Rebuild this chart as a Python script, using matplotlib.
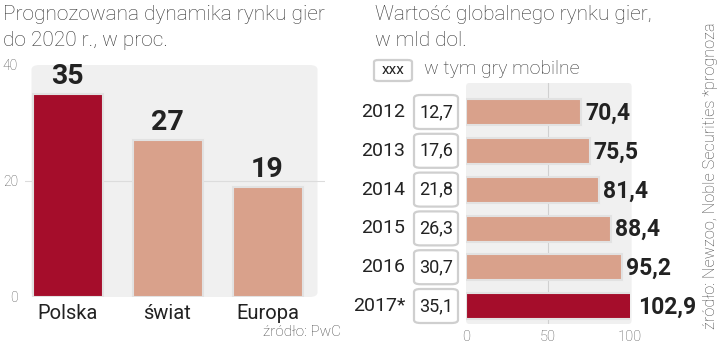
import matplotlib
matplotlib.use('Agg')
import matplotlib.pyplot as plt
from matplotlib.patches import FancyBboxPatch

# data
regions = ['Polska', 'świat', 'Europa']
growth = [35, 27, 19]

years = ['2012', '2013', '2014', '2015', '2016', '2017*']
market = [70.4, 75.5, 81.4, 88.4, 95.2, 102.9]
mobile = [12.7, 17.6, 21.8, 26.3, 30.7, 35.1]

DARK = '#A50D2B'
LIGHT = '#D9A18B'
PANEL = '#F0F0F0'
TXT = '#222222'

FONT = 'Roboto'


def fmt(v):
    return f'{v:.1f}'.replace('.', ',')


W, H = 720, 346
fig = plt.figure(figsize=(W / 100, H / 100), dpi=100)


def px_axes(x0, y0, x1, y1):
    # pixel box (top-left origin) -> axes
    return fig.add_axes([x0 / W, 1 - y1 / H, (x1 - x0) / W, (y1 - y0) / H])


def ftext(x, y, s, **kw):
    fig.text(x / W, 1 - y / H, s, **kw)


# ---- left chart ----
ax1 = px_axes(25, 65, 325, 297)
ax1.set_xlim(-0.425, 2.575)
ax1.set_ylim(0, 40)
ax1.add_patch(FancyBboxPatch((-0.36, 0), 2.86, 40, boxstyle='round,pad=0,rounding_size=0.08',
                             mutation_aspect=10, fc=PANEL, ec='none', zorder=0, clip_on=False))
ax1.axhline(20, color='#dcdcdc', lw=0.8, zorder=1)
cols = [DARK, LIGHT, LIGHT]
ax1.bar(range(3), growth, width=0.7, color=cols, edgecolor='#e2e2e2', lw=1.5, zorder=2)
for i, v in enumerate(growth):
    ax1.text(i, v + 0.7, str(v), ha='center', va='bottom', family=FONT, fontweight='bold',
             fontsize=20.5, color=TXT)
ax1.set_yticks([0, 20, 40])
ax1.set_yticklabels(['0', '20', '40'], family=FONT, fontweight='light', fontsize=10,
                    color='#555555')
ax1.tick_params(axis='y', length=0, pad=5)
ax1.set_xticks(range(3))
ax1.set_xticklabels(regions, family=FONT, fontsize=14.5, color=TXT)
ax1.tick_params(axis='x', length=0, pad=5)
for s in ax1.spines.values():
    s.set_visible(False)
ax1.patch.set_visible(False)

ftext(3, 14, 'Prognozowana dynamika rynku gier', family=FONT, fontweight='light',
      fontsize=15, color='#333333', va='center')
ftext(3, 40, 'do 2020 r., w proc.', family=FONT, fontweight='light',
      fontsize=15, color='#333333', va='center')
ftext(341, 332, 'źródło: PwC', family=FONT, fontweight='light', fontsize=11,
      color='#444444', va='center', ha='right')

# ---- right chart ----
ax2 = px_axes(466, 83, 630, 324)
ax2.set_xlim(0, 100)
ax2.set_ylim(5.46, -0.75)
ax2.add_patch(FancyBboxPatch((0, -0.75), 101, 6.21, boxstyle='round,pad=0,rounding_size=2',
                             mutation_aspect=0.05, fc=PANEL, ec='none', zorder=0, clip_on=False))
ax2.axvline(50, color='#d0d0d0', lw=0.8, zorder=1)
pos = list(range(len(years)))
ax2.barh(pos, market, height=0.67, color=[LIGHT] * 5 + [DARK], edgecolor='#e2e2e2',
         lw=1.5, zorder=2)
for i, v in enumerate(market):
    ax2.text(v + 2.2, i + 0.03, fmt(v), ha='left', va='center', family=FONT,
             fontweight='bold', fontsize=16.5, color=TXT, clip_on=False)
ax2.set_xticks([0, 50, 100])
ax2.set_xticklabels(['0', '50', '100'], family=FONT, fontweight='light', fontsize=10.5,
                    color='#555555')
ax2.tick_params(axis='x', length=0, pad=4)
ax2.set_yticks([])
for s in ax2.spines.values():
    s.set_visible(False)
ax2.patch.set_visible(False)

# year labels and mobile boxes
for i, (yr, m) in enumerate(zip(years, mobile)):
    yc = 112 + 38.8 * i
    ftext(405, yc, yr, family=FONT, fontsize=14, color=TXT, ha='right', va='center')
    fig.patches.append(FancyBboxPatch((414 / W, 1 - (yc + 17) / H), 44 / W, 34 / H,
                                      boxstyle='round,pad=0,rounding_size=0.009',
                                      transform=fig.transFigure, fc='white',
                                      ec='#cfcfcf', lw=1.6))
    ftext(436, yc, fmt(m), family=FONT, fontsize=13, color=TXT, ha='center', va='center')

# legend
fig.patches.append(FancyBboxPatch((374 / W, 1 - 81 / H), 38 / W, 21 / H,
                                  boxstyle='round,pad=0,rounding_size=0.006',
                                  transform=fig.transFigure, fc='white', ec='#cfcfcf', lw=1.6))
ftext(393, 70, 'xxx', family=FONT, fontsize=11, color=TXT, ha='center', va='center')
ftext(424, 69, 'w tym gry mobilne', family=FONT, fontweight='light', fontsize=14,
      color='#333333', va='center')

ftext(375, 14, 'Wartość globalnego rynku gier,', family=FONT, fontweight='light',
      fontsize=15, color='#333333', va='center')
ftext(375, 40, 'w mld dol.', family=FONT, fontweight='light',
      fontsize=15, color='#333333', va='center')

ftext(711, 176, 'źródło: Newzoo, Noble Securities *prognoza', family=FONT,
      fontweight='light', fontsize=11.7, color='#444444', rotation=90, ha='center', va='center')

fig.savefig('out.png', dpi=100)
